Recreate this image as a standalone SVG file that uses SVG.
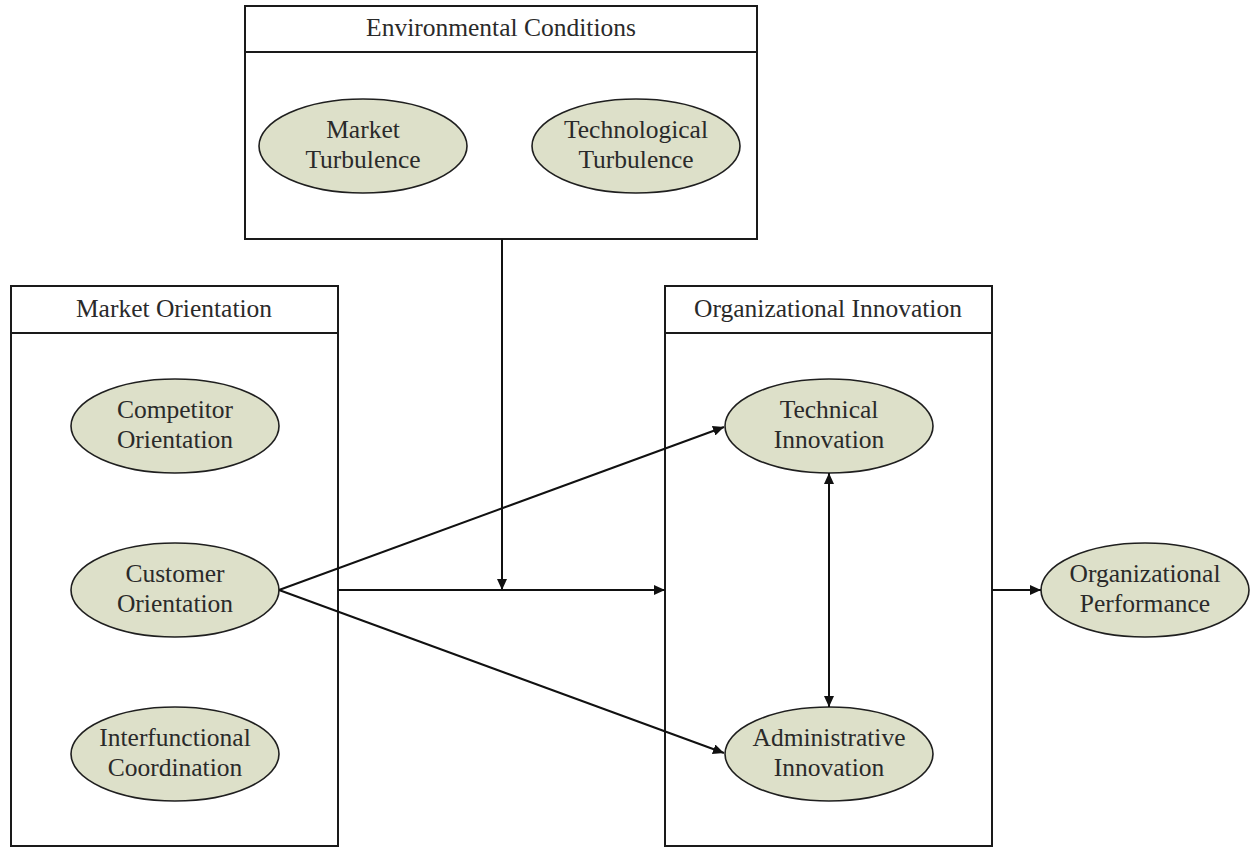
<svg xmlns="http://www.w3.org/2000/svg" width="1253" height="847" viewBox="0 0 1253 847">
  <style>
    .box { fill: #ffffff; stroke: #1a1a1a; stroke-width: 2; }
    .sep { stroke: #1a1a1a; stroke-width: 2; }
    .ell { fill: #dde0c9; stroke: #1f1f1f; stroke-width: 1.6; }
    .t { font-family: "Liberation Serif", "Times New Roman", serif; font-size: 25.5px; fill: #2a2a2a; text-anchor: middle; }
    .ln { fill: none; stroke: #111111; stroke-width: 2; }
  </style>
  <defs>
    <marker id="ah" viewBox="0 0 11 10" refX="11" refY="5" markerWidth="11" markerHeight="10" markerUnits="userSpaceOnUse" orient="auto-start-reverse">
      <path d="M0,0 L11,5 L0,10 Z" fill="#111111"/>
    </marker>
  </defs>
  <rect width="1253" height="847" fill="#ffffff"/>

  <g id="environmental-conditions">
    <rect class="box" x="245" y="6" width="512" height="233"/>
    <line class="sep" x1="245" y1="52" x2="757" y2="52"/>
    <text class="t" x="501" y="36">Environmental Conditions</text>
  </g>
  <g id="market-turbulence">
    <ellipse class="ell" cx="363" cy="146" rx="104" ry="47"/>
    <text class="t" x="363" y="138">Market</text>
    <text class="t" x="363" y="168">Turbulence</text>
  </g>
  <g id="technological-turbulence">
    <ellipse class="ell" cx="636" cy="146" rx="104" ry="47"/>
    <text class="t" x="636" y="138">Technological</text>
    <text class="t" x="636" y="168">Turbulence</text>
  </g>

  <g id="market-orientation">
    <rect class="box" x="11" y="286" width="327" height="560"/>
    <line class="sep" x1="11" y1="333" x2="338" y2="333"/>
    <text class="t" x="174" y="317">Market Orientation</text>
  </g>
  <g id="competitor-orientation">
    <ellipse class="ell" cx="175" cy="426" rx="104" ry="47"/>
    <text class="t" x="175" y="418">Competitor</text>
    <text class="t" x="175" y="448">Orientation</text>
  </g>
  <g id="customer-orientation">
    <ellipse class="ell" cx="175" cy="590" rx="104" ry="47"/>
    <text class="t" x="175" y="582">Customer</text>
    <text class="t" x="175" y="612">Orientation</text>
  </g>
  <g id="interfunctional-coordination">
    <ellipse class="ell" cx="175" cy="754" rx="104" ry="47"/>
    <text class="t" x="175" y="746">Interfunctional</text>
    <text class="t" x="175" y="776">Coordination</text>
  </g>

  <g id="organizational-innovation">
    <rect class="box" x="665" y="286" width="327" height="560"/>
    <line class="sep" x1="665" y1="333" x2="992" y2="333"/>
    <text class="t" x="828" y="317">Organizational Innovation</text>
  </g>
  <g id="technical-innovation">
    <ellipse class="ell" cx="829" cy="426" rx="104" ry="47"/>
    <text class="t" x="829" y="418">Technical</text>
    <text class="t" x="829" y="448">Innovation</text>
  </g>
  <g id="administrative-innovation">
    <ellipse class="ell" cx="829" cy="754" rx="104" ry="47"/>
    <text class="t" x="829" y="746">Administrative</text>
    <text class="t" x="829" y="776">Innovation</text>
  </g>

  <g id="organizational-performance">
    <ellipse class="ell" cx="1145" cy="590" rx="104" ry="47"/>
    <text class="t" x="1145" y="582">Organizational</text>
    <text class="t" x="1145" y="612">Performance</text>
  </g>

  <g id="connectors">
    <line class="ln" x1="502" y1="239" x2="502" y2="590" marker-end="url(#ah)"/>
    <line class="ln" x1="338" y1="590" x2="665" y2="590" marker-end="url(#ah)"/>
    <line class="ln" x1="279" y1="590" x2="724" y2="427" marker-end="url(#ah)"/>
    <line class="ln" x1="279" y1="590" x2="724" y2="753" marker-end="url(#ah)"/>
    <line class="ln" x1="829" y1="473" x2="829" y2="707" marker-start="url(#ah)" marker-end="url(#ah)"/>
    <line class="ln" x1="992" y1="590" x2="1041" y2="590" marker-end="url(#ah)"/>
  </g>
</svg>
